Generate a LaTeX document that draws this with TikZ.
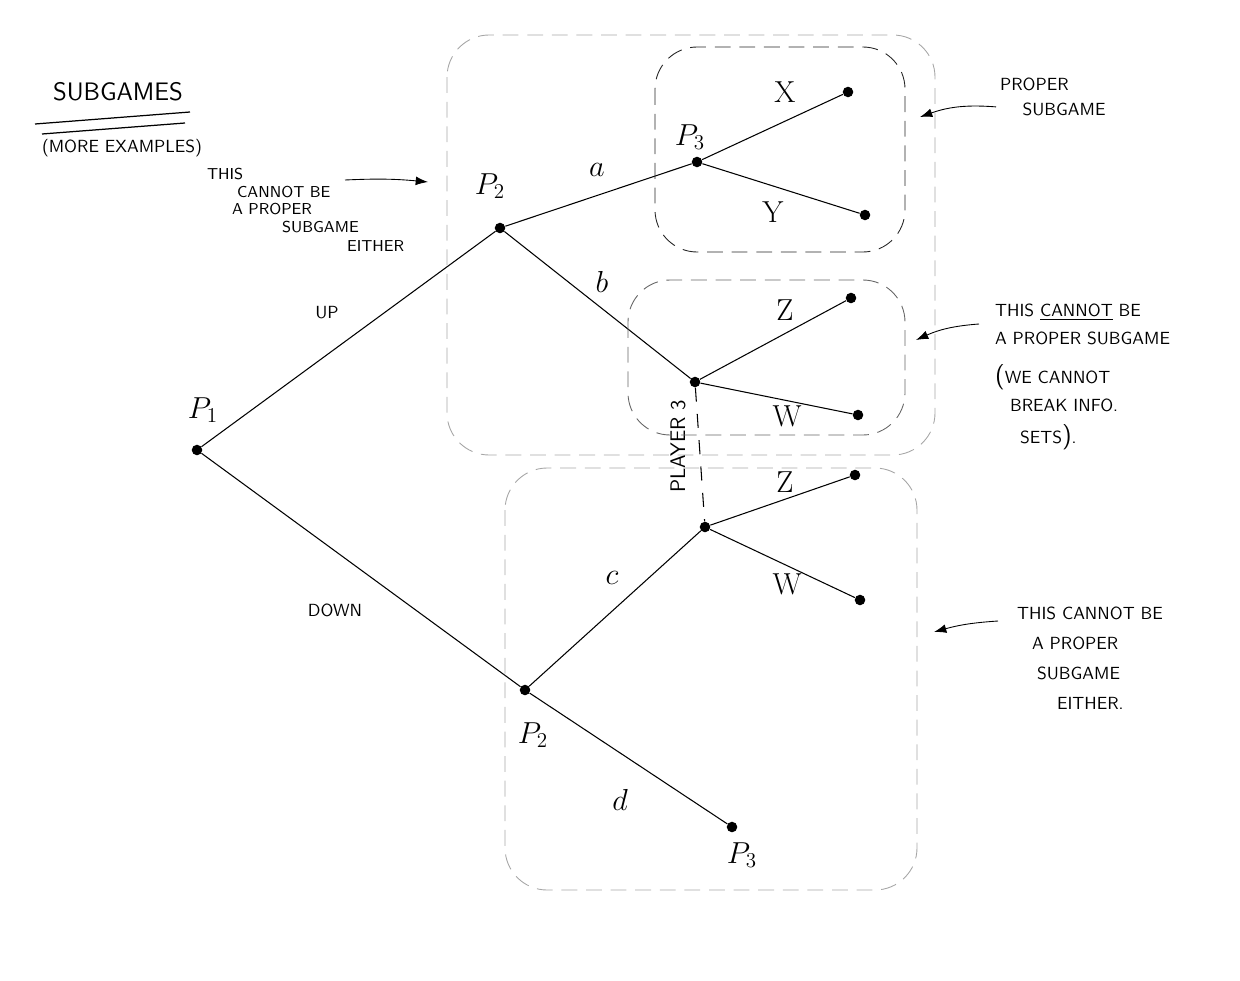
\documentclass[tikz,border=0pt]{standalone}
\usepackage{tikz}
\usetikzlibrary{arrows}
\usetikzlibrary{arrows.meta}
\begin{document}
\begin{tikzpicture}[x=0.02cm,y=-0.02cm,font=\sffamily]
\tikzstyle{every node}=[inner sep=1pt]
\tikzstyle{decnode}=[circle,fill=black,inner sep=0pt,minimum size=6pt]
\tikzstyle{movepath}=[line width=0.6pt]
\tikzstyle{subgame}=[rounded corners=24pt,line width=0.5pt,dash pattern=on 9pt off 5pt]
\tikzstyle{note}=[align=left,font=\sffamily]
\tikzstyle{lbl}=[font=\LARGE]
\tikzstyle{pointer}=[line width=0.5pt,-{Latex[length=7pt,width=5pt]}]
\useasboundingbox (0,0) rectangle (1240,980);

% title
\node[font=\sffamily\Large] (title) at (118,92) {SUBGAMES};
\node[font=\sffamily] (subtitle) at (122,148) {(MORE EXAMPLES)};
\draw[line width=0.7pt] (35,124) -- (190,112);
\draw[line width=0.7pt] (42,134) -- (185,123);

% the tree
\node[decnode] (p1) at (197,450) {};
\node[decnode] (p2u) at (500,228) {};
\node[decnode] (p3u) at (697,162) {};
\node[decnode] (xe) at (848,92) {};
\node[decnode] (ye) at (865,215) {};
\node[decnode] (i3u) at (695,382) {};
\node[decnode] (zu) at (851,298) {};
\node[decnode] (wu) at (858,415) {};
\node[decnode] (i3l) at (705,527) {};
\node[decnode] (zl) at (855,475) {};
\node[decnode] (wl) at (860,600) {};
\node[decnode] (p2l) at (525,690) {};
\node[decnode] (p3l) at (732,827) {};

\draw[movepath] (p1) -- (p2u);
\draw[movepath] (p1) -- (p2l);
\draw[movepath] (p2u) -- (p3u);
\draw[movepath] (p2u) -- (i3u);
\draw[movepath] (p3u) -- (xe);
\draw[movepath] (p3u) -- (ye);
\draw[movepath] (i3u) -- (zu);
\draw[movepath] (i3u) -- (wu);
\draw[movepath] (p2l) -- (i3l);
\draw[movepath] (p2l) -- (p3l);
\draw[movepath] (i3l) -- (zl);
\draw[movepath] (i3l) -- (wl);
\draw[line width=0.6pt,dash pattern=on 8pt off 7pt] (i3u) -- (i3l);

% players and moves
\node[lbl] (p1lbl) at (203,410) {$P_1$};
\node[lbl] (p2ulbl) at (490,186) {$P_2$};
\node[lbl] (p3ulbl) at (690,137) {$P_3$};
\node[lbl] (p2llbl) at (533,735) {$P_2$};
\node[lbl] (p3llbl) at (742,855) {$P_3$};
\node[rotate=90,font=\sffamily\large] (pl3) at (678,446) {PLAYER 3};
\node[font=\sffamily] (up) at (327,313) {UP};
\node[font=\sffamily] (down) at (335,610) {DOWN};
\node[lbl] (ma) at (597,170) {$a$};
\node[lbl] (mb) at (602,282) {$b$};
\node[lbl] (mc) at (612,578) {$c$};
\node[lbl] (md) at (620,800) {$d$};
\node[lbl] (mx) at (785,92) {X};
\node[lbl] (my) at (773,212) {Y};
\node[lbl] (mzu) at (785,310) {Z};
\node[lbl] (mwu) at (787,416) {W};
\node[lbl] (mzl) at (785,482) {Z};
\node[lbl] (mwl) at (787,584) {W};

% subgame boxes
\draw[subgame,gray!70] (447,35) rectangle (935,455);
\draw[subgame,black!85] (655,47) rectangle (905,252);
\draw[subgame,gray!80!black] (628,280) rectangle (905,435);
\draw[subgame,gray!70] (505,468) rectangle (917,890);

% remarks
\node[note,font=\sffamily\small,anchor=north west] (rem1) at (205,166)
  {THIS\\[-1pt]\hspace*{0.6cm}CANNOT BE\\[-1pt]\hspace*{0.5cm}A PROPER\\[-1pt]\hspace*{1.5cm}SUBGAME\\[0pt]\hspace*{2.8cm}EITHER};
\node[note,anchor=north west] (rem2) at (998,76) {PROPER\\[2pt]\hspace*{0.45cm}SUBGAME};
\node[note,anchor=north west] (rem3) at (993,302)
  {THIS \underline{CANNOT} BE\\[4pt]A PROPER SUBGAME\\[10pt]{\Large(}WE CANNOT\\[4pt]\hspace*{0.3cm}BREAK INFO.\\[6pt]\hspace*{0.5cm}SETS{\Large)}.};
\node[note,anchor=north west] (rem4) at (1015,605)
  {THIS CANNOT BE\\[5pt]\hspace*{0.3cm}A PROPER\\[5pt]\hspace*{0.4cm}SUBGAME\\[5pt]\hspace*{0.8cm}EITHER.};

\coordinate (t1) at (428,182);
\coordinate (t2) at (920,117);
\coordinate (t3) at (916,340);
\coordinate (t4) at (934,632);
\draw[pointer] (345,180) to[bend left=4] (t1);
\draw[pointer] (rem2.west) ++(-2,10) to[bend right=12] (t2);
\draw[pointer] (rem3.north west) ++(-14,22) to[bend right=10] (t3);
\draw[pointer] (rem4.north west) ++(-17,16) to[bend right=6] (t4);
\end{tikzpicture}
\end{document}
